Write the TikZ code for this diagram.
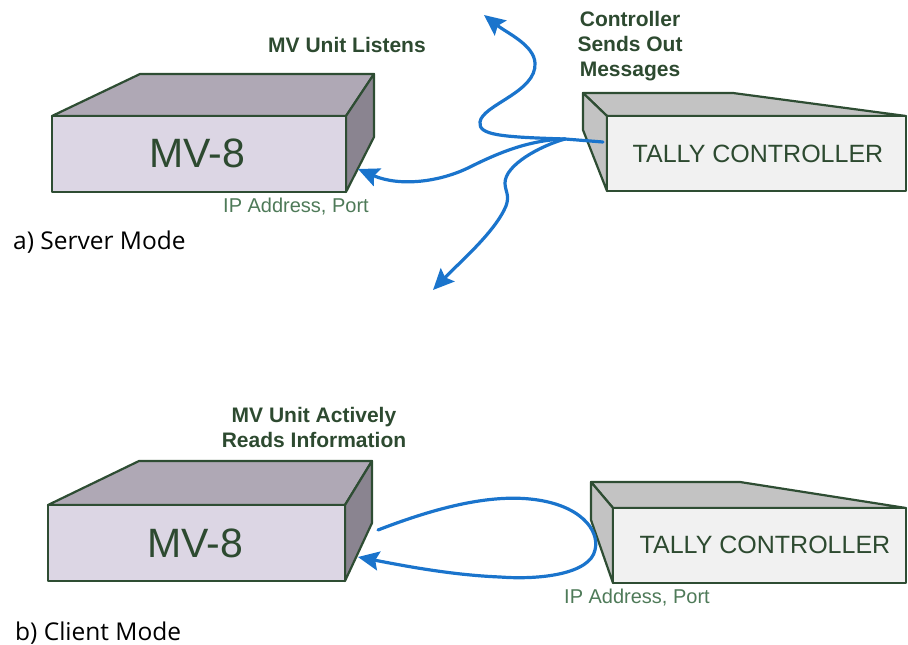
\documentclass[tikz,border=0pt]{standalone}
\usepackage{fontspec}
\setmainfont{Liberation Sans}
\newfontfamily\captionfont{Open Sans}
\usetikzlibrary{arrows.meta}
\definecolor{boxline}{HTML}{2E4D33}
\definecolor{mvfront}{HTML}{DCD6E4}
\definecolor{mvtop}{HTML}{AFA8B5}
\definecolor{mvside}{HTML}{8A8490}
\definecolor{tcfront}{HTML}{F1F1F1}
\definecolor{tcshade}{HTML}{C3C3C3}
\definecolor{txtgreen}{HTML}{2D4A30}
\definecolor{iptxt}{HTML}{4E7A58}
\definecolor{flow}{HTML}{1A74CC}
\begin{document}
\begin{tikzpicture}[x=1pt,y=-1pt,
  face/.style={draw=boxline,line width=2.2pt,line join=round},
  flowline/.style={draw=flow,line width=3.2pt,line cap=round},
  flowarrow/.style={flowline,-{Stealth[length=21pt,width=19pt,inset=3.5pt]}},
  boldlabel/.style={inner sep=0pt,anchor=base,text=txtgreen,font=\fontsize{21}{25}\selectfont\bfseries},
  bigname/.style={inner sep=0pt,anchor=base,text=txtgreen,font=\fontsize{41}{48}\selectfont},
  tallyname/.style={inner sep=0pt,anchor=base,text=txtgreen,font=\fontsize{25}{30}\selectfont},
  iplabel/.style={inner sep=0pt,anchor=base,text=iptxt,font=\fontsize{20}{24}\selectfont},
  modelabel/.style={inner sep=0pt,anchor=base west,text=black,font=\captionfont\fontsize{24.5}{29}\selectfont}
]
\useasboundingbox (0,0) rectangle (908,645);

% ---------- a) Server mode ----------
% MV-8 box
\path[face,fill=mvtop] (52,116) -- (140,74) -- (374,74) -- (346,116) -- cycle;
\path[face,fill=mvside] (346,116) -- (374,74) -- (374,137) -- (346,192) -- cycle;
\path[face,fill=mvfront] (52,116) rectangle (346,192);
% Tally controller box
\path[face,fill=tcshade] (583,93) -- (733,93) -- (906,116) -- (607,116) -- cycle;
\path[face,fill=tcshade] (583,93) -- (607,116) -- (607,191) -- (583,130) -- cycle;
\path[face,fill=tcfront] (607,116) rectangle (906,191);

\node[boldlabel] (listens) at (347,52) {MV Unit Listens};
\node[bigname] (mvA) at (197,167) {MV-8};
\node[iplabel] (ipA) at (296,212) {IP Address, Port};
\node[tallyname] (tallyA) at (758,162) {TALLY CONTROLLER};
\node[boldlabel] (sendsA) at (630,26) {Controller};
\node[boldlabel] (sendsB) at (630,51.5) {Sends Out};
\node[boldlabel] (sendsC) at (630,76.5) {Messages};
\node[modelabel] (server) at (13,249) {a) Server Mode};

\coordinate (srcA) at (603,142);
\coordinate (hubA) at (565,139);
\coordinate (tipUp) at (484,15);
\coordinate (tipMv) at (358,169);
\coordinate (tipDown) at (433,290);

\draw[flowline] (srcA) -- (hubA);
\draw[flowarrow] (hubA) .. controls (500,137) and (478,135) .. (480,122)
  .. controls (482,105) and (537,92) .. (535,63)
  .. controls (534,45) and (507,33) .. (tipUp);
\draw[flowarrow] (hubA) .. controls (530,140) and (500,152) .. (470,167)
  .. controls (440,182) and (400,187) .. (tipMv);
\draw[flowarrow] (hubA) .. controls (540,146) and (505,165) .. (505,183)
  .. controls (505,191) and (510,195) .. (506,206)
  .. controls (495,232) and (460,262) .. (tipDown);

% ---------- b) Client mode ----------
\path[face,fill=mvtop] (48,505) -- (139,461) -- (372,461) -- (345,505) -- cycle;
\path[face,fill=mvside] (345,505) -- (372,461) -- (372,523) -- (345,581) -- cycle;
\path[face,fill=mvfront] (48,505) rectangle (345,581);
\path[face,fill=tcshade] (591,482) -- (740,482) -- (906,508) -- (613,508) -- cycle;
\path[face,fill=tcshade] (591,482) -- (613,508) -- (613,583) -- (591,520) -- cycle;
\path[face,fill=tcfront] (613,508) rectangle (906,583);

\node[boldlabel] (readsA) at (314,422) {MV Unit Actively};
\node[boldlabel] (readsB) at (314,447) {Reads Information};
\node[bigname] (mvB) at (195,557) {MV-8};
\node[tallyname] (tallyB) at (765,553) {TALLY CONTROLLER};
\node[iplabel] (ipB) at (637,603) {IP Address, Port};
\node[modelabel] (client) at (15,640) {b) Client Mode};

\coordinate (loopStart) at (378,530);
\coordinate (loopTip) at (358,557);
\draw[flowarrow] (loopStart) .. controls (440,506) and (490,495) .. (530,499)
  .. controls (580,504) and (600,530) .. (595,550)
  .. controls (590,574) and (540,580) .. (500,577)
  .. controls (450,575) and (400,565) .. (loopTip);
\end{tikzpicture}
\end{document}
